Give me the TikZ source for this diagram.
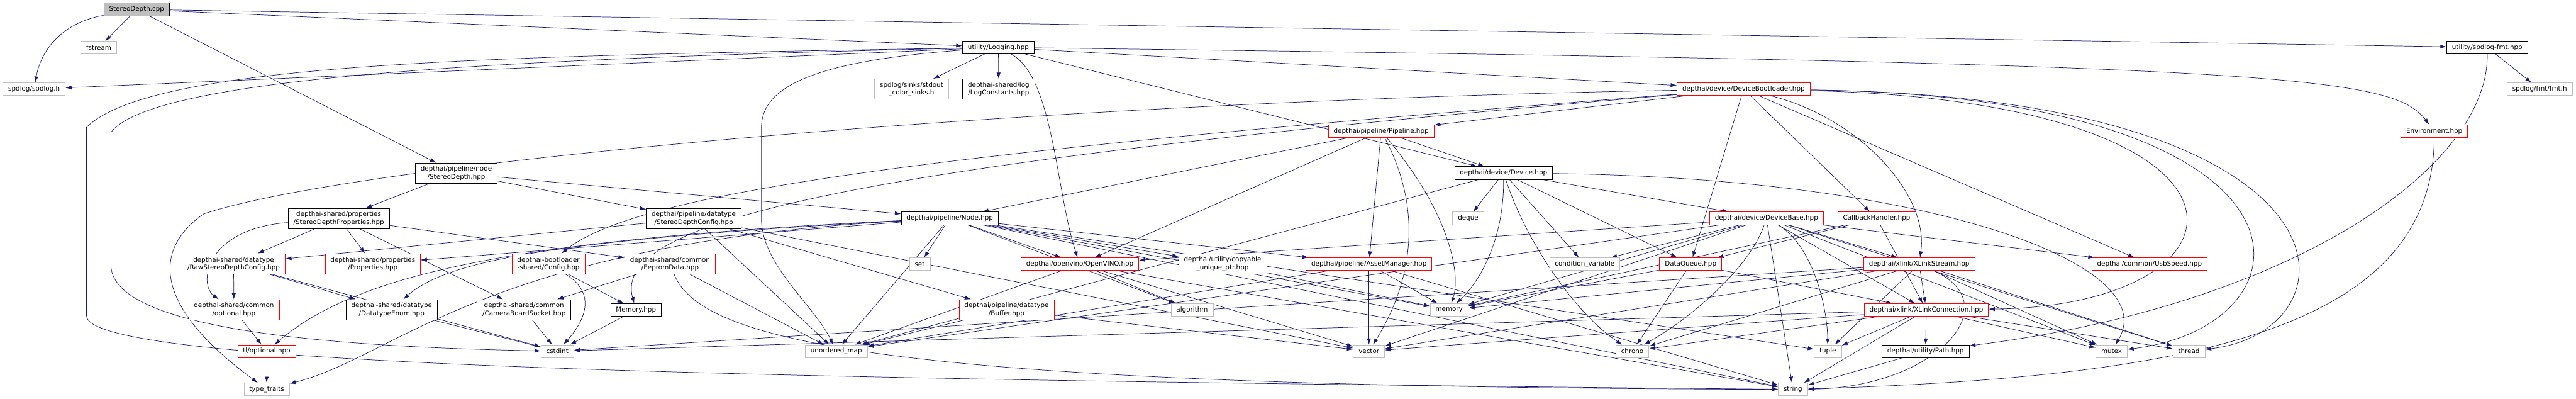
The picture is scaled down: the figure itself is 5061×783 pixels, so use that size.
\documentclass[tikz,border=0pt]{standalone}
\usepackage{fontspec}
\setmainfont{DejaVu Sans}
\usetikzlibrary{arrows.meta}
\definecolor{edgeblue}{RGB}{25,25,112}
\definecolor{sysgray}{RGB}{191,191,191}
\pgfdeclarelayer{background}
\pgfsetlayers{background,main}

\begin{document}
\begin{tikzpicture}[x=1pt, y=-1pt,
    every node/.style={font=\fontsize{12.8}{15}\selectfont, inner xsep=10.5pt, inner ysep=0pt,
      minimum height=25pt, align=center, fill=white, line width=0.9pt},
    filebox/.style={draw=black},
    redbox/.style={draw=red},
    sysbox/.style={draw=sysgray},
    rootbox/.style={draw=black, fill=sysgray, line width=1.3pt},
    twoline/.style={minimum height=40pt},
    inc/.style={draw=edgeblue, line width=0.9pt, -{Latex[length=12pt,width=8pt]}}]
  \useasboundingbox (0,0) rectangle (5061,783);

  % rank 0 and 1
  \node[rootbox] (root) at (268.5,18.5) {StereoDepth.cpp};
  \node[sysbox] (fstream) at (194,93.5) {fstream};
  \node[filebox] (logging) at (1961.5,93) {utility/Logging.hpp};
  \node[filebox] (spdfmt) at (4886.5,93) {utility/spdlog-fmt.hpp};
  % rank 2
  \node[sysbox] (spdlogh) at (67,175) {spdlog/spdlog.h};
  \node[sysbox, twoline] (sinks) at (1791,175) {spdlog/sinks/stdout\\\_color\_sinks.h};
  \node[filebox, twoline] (logconst) at (1962,175) {depthai-shared/log\\/LogConstants.hpp};
  \node[redbox] (devboot) at (3425.5,175) {depthai/device/DeviceBootloader.hpp};
  \node[sysbox] (fmth) at (4989.5,175) {spdlog/fmt/fmt.h};
  % rank 3
  \node[redbox] (pipeline) at (2713.5,257.5) {depthai/pipeline/Pipeline.hpp};
  \node[redbox] (environ) at (4782.5,257.5) {Environment.hpp};
  % rank 4
  \node[filebox, twoline] (nodesd) at (896.5,340) {depthai/pipeline/node\\/StereoDepth.hpp};
  \node[filebox] (device) at (2954,339.5) {depthai/device/Device.hpp};
  % rank 5
  \node[filebox, twoline] (sdprops) at (665.5,429) {depthai-shared/properties\\/StereoDepthProperties.hpp};
  \node[filebox, twoline] (sdconfig) at (1363,429) {depthai/pipeline/datatype\\/StereoDepthConfig.hpp};
  \node[filebox] (nodehpp) at (1866,428.5) {depthai/pipeline/Node.hpp};
  \node[sysbox] (deque) at (2884.5,428.5) {deque};
  \node[redbox] (devbase) at (3470.5,428.5) {depthai/device/DeviceBase.hpp};
  \node[redbox] (callback) at (3687,428.5) {CallbackHandler.hpp};
  % rank 6
  \node[redbox, twoline] (rawsd) at (459,518) {depthai-shared/datatype\\/RawStereoDepthConfig.hpp};
  \node[redbox, twoline] (props) at (732.5,518) {depthai-shared/properties\\/Properties.hpp};
  \node[redbox, twoline] (blconfig) at (1077.5,518) {depthai-bootloader\\-shared/Config.hpp};
  \node[redbox, twoline] (eeprom) at (1316.5,518) {depthai-shared/common\\/EepromData.hpp};
  \node[sysbox] (setn) at (1807,518.5) {set};
  \node[redbox] (openvino) at (2121.5,518.5) {depthai/openvino/OpenVINO.hpp};
  \node[redbox, twoline] (copyable) at (2402,518) {depthai/utility/copyable\\\_unique\_ptr.hpp};
  \node[redbox] (assetmgr) at (2689.5,518.5) {depthai/pipeline/AssetManager.hpp};
  \node[sysbox] (condvar) at (3113.5,518.5) {condition\_variable};
  \node[redbox] (dataqueue) at (3321.5,518.5) {DataQueue.hpp};
  \node[redbox] (xlstream) at (3770.5,518.5) {depthai/xlink/XLinkStream.hpp};
  \node[redbox] (usbspeed) at (4223,518.5) {depthai/common/UsbSpeed.hpp};
  % rank 7
  \node[redbox, twoline] (optional) at (459.5,608) {depthai-shared/common\\/optional.hpp};
  \node[filebox, twoline] (dtenum) at (769.5,608) {depthai-shared/datatype\\/DatatypeEnum.hpp};
  \node[filebox, twoline] (camsock) at (1029.5,608) {depthai-shared/common\\/CameraBoardSocket.hpp};
  \node[filebox] (memoryhpp) at (1249.5,608.5) {Memory.hpp};
  \node[redbox, twoline] (buffer) at (1977.5,608) {depthai/pipeline/datatype\\/Buffer.hpp};
  \node[sysbox] (algorithm) at (2342,608.5) {algorithm};
  \node[sysbox] (memory) at (2847,608.5) {memory};
  \node[redbox] (xlconn) at (3784.5,608.5) {depthai/xlink/XLinkConnection.hpp};
  % rank 8
  \node[redbox] (tloptional) at (524,689.5) {tl/optional.hpp};
  \node[sysbox] (cstdint) at (1095,689.5) {cstdint};
  \node[sysbox] (umap) at (1643,689.5) {unordered\_map};
  \node[sysbox] (vector) at (2689.5,689.5) {vector};
  \node[sysbox] (chrono) at (3207,689.5) {chrono};
  \node[sysbox] (tuple) at (3591,689.5) {tuple};
  \node[filebox] (path) at (3783,689.5) {depthai/utility/Path.hpp};
  \node[sysbox] (mutex) at (4148.5,689.5) {mutex};
  \node[sysbox] (thread) at (4300.5,689.5) {thread};
  % rank 9
  \node[sysbox] (typetraits) at (524,764.5) {type\_traits};
  \node[sysbox] (string) at (3522.5,764.5) {string};

  \begin{pgfonlayer}{background}
  % StereoDepth.cpp
  \draw[inc] (root) .. controls (120,45) and (80,100) .. (spdlogh);
  \foreach \dst in {fstream,nodesd,logging,spdfmt} \draw[inc] (root) -- (\dst);
  % utility/Logging.hpp
  \foreach \dst in {sinks,logconst,spdlogh,devboot,device} \draw[inc] (logging) -- (\dst);
  \draw[inc] (logging) .. controls (2070,150) and (2075,380) .. (openvino);
  \draw[inc] (logging) .. controls (4500,125) and (4700,150) .. (environ);
  % long detours down the left side
  \draw[inc] (logging) .. controls (1600,120) and (1496,170) .. (1496,250)
    -- (1496,430) .. controls (1496,520) and (1600,600) .. (umap);
  \draw[inc] (logging) .. controls (1000,115) and (300,150) .. (218,260)
    -- (218,520) .. controls (218,640) and (600,680) .. (cstdint);
  \draw[inc] (logging) .. controls (1000,110) and (300,120) .. (170,250)
    -- (170,620) .. controls (170,720) and (1500,745) .. (string);
  % utility/spdlog-fmt.hpp
  \draw[inc] (spdfmt) -- (fmth);
  \draw[inc] (spdfmt) .. controls (4890,330) and (4500,600) .. (path);
  % DeviceBootloader.hpp
  \foreach \dst in {pipeline,dataqueue,callback,usbspeed} \draw[inc] (devboot) -- (\dst);
  \draw[inc] (devboot) .. controls (3650,230) and (3790,380) .. (xlstream);
  \draw[inc] (devboot) .. controls (2000,200) and (700,320) .. (400,420)
    .. controls (300,490) and (300,600) .. (typetraits);
  \draw[inc] (devboot) .. controls (1800,300) and (1250,380) .. (blconfig);
  \draw[inc] (devboot) .. controls (1700,320) and (1200,430) .. (memoryhpp);
  \draw[inc] (devboot) .. controls (4500,200) and (4450,600) .. (xlconn);
  \draw[inc] (devboot) .. controls (4600,190) and (4560,640) .. (mutex);
  \draw[inc] (devboot) .. controls (4660,190) and (4640,650) .. (thread);
  % Pipeline.hpp and Environment.hpp
  \foreach \dst in {nodehpp,openvino,assetmgr,device} \draw[inc] (pipeline) -- (\dst);
  \draw[inc] (pipeline) .. controls (2800,420) and (2770,560) .. (vector);
  \draw[inc] (pipeline) .. controls (2850,420) and (2870,540) .. (memory);
  \draw[inc] (environ) .. controls (4780,650) and (4300,740) .. (string);
  % node/StereoDepth.hpp
  \foreach \dst in {nodehpp,sdprops,sdconfig} \draw[inc] (nodesd) -- (\dst);
  % Device.hpp
  \foreach \dst in {deque,condvar,devbase,dataqueue,umap} \draw[inc] (device) -- (\dst);
  \draw[inc] (device) .. controls (2955,480) and (2900,560) .. (memory);
  \draw[inc] (device) .. controls (3000,480) and (3100,620) .. (chrono);
  \draw[inc] (device) .. controls (3800,350) and (4250,520) .. (mutex);
  % StereoDepthProperties.hpp and StereoDepthConfig.hpp
  \foreach \dst in {rawsd,props,eeprom,camsock} \draw[inc] (sdprops) -- (\dst);
  \draw[inc] (sdprops) .. controls (400,450) and (390,560) .. (optional);
  \foreach \dst in {rawsd,umap,buffer,vector} \draw[inc] (sdconfig) -- (\dst);
  % Node.hpp
  \foreach \dst in {setn,openvino,copyable,algorithm,umap,props,memory,tuple,string,assetmgr}
    \draw[inc] (nodehpp) -- (\dst);
  \draw[inc] (nodehpp) .. controls (1100,470) and (880,510) .. (dtenum);
  \draw[inc] (nodehpp) .. controls (1000,470) and (700,540) .. (tloptional);
  \draw[inc] (nodehpp) .. controls (950,480) and (780,700) .. (typetraits);
  % DeviceBase.hpp and CallbackHandler.hpp
  \foreach \dst in {openvino,condvar,memory,string,xlstream,xlconn,usbspeed,thread,mutex,umap,vector}
    \draw[inc] (devbase) -- (\dst);
  \draw[inc] (devbase) .. controls (3440,520) and (3330,620) .. (chrono);
  \draw[inc] (devbase) .. controls (3560,480) and (3590,600) .. (tuple);
  \foreach \dst in {dataqueue,memory,xlconn} \draw[inc] (callback) -- (\dst);
  % rank 6 headers
  \foreach \dst in {optional,dtenum,cstdint} \draw[inc] (rawsd) -- (\dst);
  \draw[inc] (blconfig) -- (memoryhpp);
  \draw[inc] (blconfig) .. controls (1180,580) and (1140,640) .. (cstdint);
  \foreach \dst in {camsock,umap} \draw[inc] (eeprom) -- (\dst);
  \draw[inc] (eeprom) .. controls (1380,680) and (1800,760) .. (string);
  \foreach \dst in {umap,algorithm,vector,string} \draw[inc] (openvino) -- (\dst);
  \draw[inc] (copyable) -- (memory);
  \foreach \dst in {vector,memory,umap,string} \draw[inc] (assetmgr) -- (\dst);
  \foreach \dst in {xlconn,memory,chrono} \draw[inc] (dataqueue) -- (\dst);
  \foreach \dst in {xlconn,chrono,tuple,memory,mutex,thread,vector,cstdint} \draw[inc] (xlstream) -- (\dst);
  \draw[inc] (xlstream) .. controls (3950,600) and (3800,760) .. (string);
  % rank 7 and 8 headers
  \draw[inc] (optional) -- (tloptional);
  \foreach \src in {dtenum,camsock,memoryhpp} \draw[inc] (\src) -- (cstdint);
  \foreach \dst in {umap,vector} \draw[inc] (buffer) -- (\dst);
  \foreach \dst in {path,chrono,tuple,string,mutex,thread,vector,cstdint} \draw[inc] (xlconn) -- (\dst);
  \draw[inc] (tloptional) -- (typetraits);
  \draw[inc] (path) -- (string);
  \end{pgfonlayer}
\end{tikzpicture}
\end{document}
